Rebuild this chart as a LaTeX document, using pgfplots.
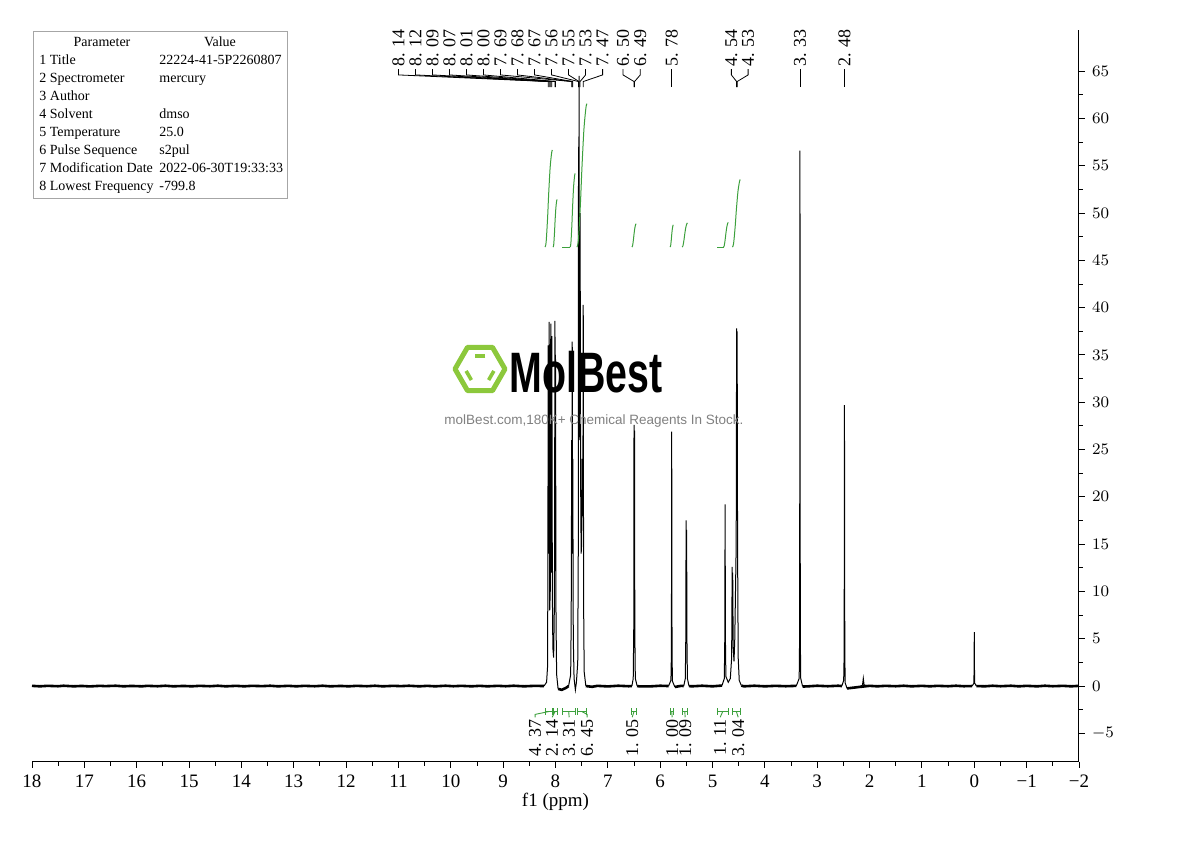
\documentclass[border=0pt]{standalone}
\usepackage{pgfplots}
\pgfplotsset{compat=1.18}
\usetikzlibrary{calc}
\usepackage{fontspec}
\setmainfont{Liberation Serif}
\newfontfamily\wmfont{Liberation Sans}
\definecolor{intgreen}{RGB}{60,160,60}
\definecolor{logogreen}{RGB}{140,200,60}
\begin{document}
\begin{tikzpicture}[x=1pt,y=1pt]
\useasboundingbox (0,0) rectangle (595,420.5);
% parameter table
\draw[gray!70, line width=0.4pt] (16.5,405) rectangle (143.5,321.5);
\begin{scope}[every node/.style={font=\fontsize{7}{8}\selectfont, text height=5pt, text depth=1.6pt, inner sep=1pt}]
\node at (51,399) {Parameter};
\node at (110,399) {Value};
\node[anchor=west] at (18.5,390) {1 Title};
\node[anchor=west] at (18.5,381) {2 Spectrometer};
\node[anchor=west] at (18.5,372) {3 Author};
\node[anchor=west] at (18.5,363) {4 Solvent};
\node[anchor=west] at (18.5,354) {5 Temperature};
\node[anchor=west] at (18.5,345) {6 Pulse Sequence};
\node[anchor=west] at (18.5,336) {7 Modification Date};
\node[anchor=west] at (18.5,327) {8 Lowest Frequency};
\node[anchor=west] at (78.5,390) {22224-41-5P2260807};
\node[anchor=west] at (78.5,381) {mercury};
\node[anchor=west] at (78.5,363) {dmso};
\node[anchor=west] at (78.5,354) {25.0};
\node[anchor=west] at (78.5,345) {s2pul};
\node[anchor=west] at (78.5,336) {2022-06-30T19:33:33};
\node[anchor=west] at (78.5,327) {-799.8};
\end{scope}
% watermark logo
\begin{scope}[shift={(240,236)}]
\draw[logogreen, line width=2.5pt, line join=round] (0:12.5) -- (60:12.5) -- (120:12.5) -- (180:12.5) -- (240:12.5) -- (300:12.5) -- cycle;
\draw[logogreen, line width=1.8pt] ($(60:7.5)!0.15!(120:7.5)$) -- ($(60:7.5)!0.85!(120:7.5)$);
\draw[logogreen, line width=1.8pt] ($(180:7.5)!0.15!(240:7.5)$) -- ($(180:7.5)!0.85!(240:7.5)$);
\draw[logogreen, line width=1.8pt] ($(300:7.5)!0.15!(360:7.5)$) -- ($(300:7.5)!0.85!(360:7.5)$);
\end{scope}
\begin{axis}[
  at={(16pt,39.5pt)}, anchor=south west, scale only axis,
  width=523.5pt, height=366pt,
  xmin=-2, xmax=18, x dir=reverse,
  ymin=-8.03, ymax=69.35,
  axis x line=bottom, axis y line=right,
  axis line style={-, line width=0.5pt},
  tick align=outside, major tick length=3pt, minor tick length=1.8pt,
  every tick/.style={black, line width=0.45pt},
  xtick={-2,-1,0,1,2,3,4,5,6,7,8,9,10,11,12,13,14,15,16,17,18},
  xticklabels={−2,−1,0,1,2,3,4,5,6,7,8,9,10,11,12,13,14,15,16,17,18},
  minor x tick num=1,
  ytick={-5,0,5,10,15,20,25,30,35,40,45,50,55,60,65},
  minor y tick num=1,
  x tick label style={font=\fontsize{9.5}{10}\selectfont},
  y tick label style={font=\fontsize{8.5}{9}\selectfont},
  xlabel={f1 (ppm)},
  xlabel style={font=\fontsize{9.5}{10}\selectfont, yshift=4pt},
  clip=false,
]
% baseline noise
\addplot[black, line width=1.3pt] coordinates {
(18.0,0.02)(17.85,-0.03)(17.7,0.02)(17.5,-0.02)(17.4,0.03)(17.2,-0.03)(17.05,0.01)(16.9,-0.04)(16.7,0.02)(16.6,-0.01)
(16.4,0.03)(16.25,-0.03)(16.1,0.01)(15.9,-0.03)(15.8,0.02)(15.6,-0.02)(15.45,0.03)(15.3,-0.03)(15.1,0.01)(14.95,-0.03)
(14.8,0.02)(14.6,-0.02)(14.45,0.03)(14.3,-0.03)(14.1,0.02)(13.95,-0.03)(13.8,0.02)(13.6,-0.01)(13.45,0.03)(13.3,-0.03)
(13.1,0.02)(12.95,-0.03)(12.8,0.02)(12.6,-0.02)(12.45,0.03)(12.3,-0.03)(12.1,0.01)(11.95,-0.03)(11.8,0.02)(11.6,-0.02)
(11.45,0.03)(11.3,-0.03)(11.1,0.02)(10.95,-0.01)(10.8,0.03)(10.6,-0.03)(10.45,0.02)(10.3,-0.03)(10.1,0.03)(9.95,-0.02)
(9.8,0.02)(9.6,-0.03)(9.45,0.02)(9.3,-0.03)(9.1,0.02)(8.95,-0.02)(8.8,0.03)(8.6,-0.03)(8.4,0.02)(8.22,0.0)
};
\addplot[black, line width=1.3pt] coordinates {
(7.95,-0.3)(7.88,-0.4)(7.8,-0.2)(7.75,0.0)
};
\addplot[black, line width=1.3pt] coordinates {
(7.42,0.0)(7.3,-0.08)(7.2,0.02)(7.0,-0.04)(6.8,0.03)(6.6,-0.02)(6.54,0.0)
};
\addplot[black, line width=1.3pt] coordinates {
(6.44,0.0)(6.4,-0.03)(6.2,-0.04)(6.0,0.03)(5.84,0.0)
};
\addplot[black, line width=1.3pt] coordinates {
(5.72,-0.1)(5.6,0.02)(5.55,0.0)
};
\addplot[black, line width=1.3pt] coordinates {
(5.45,0.0)(5.4,-0.03)(5.2,0.03)(5.0,-0.03)(4.82,0.05)
};
\addplot[black, line width=1.3pt] coordinates {
(4.45,0.05)(4.4,-0.03)(4.2,0.03)(4.0,-0.03)(3.8,0.02)(3.6,-0.02)(3.4,0.02)
};
\addplot[black, line width=1.3pt] coordinates {
(3.28,-0.05)(3.2,-0.04)(3.0,0.03)(2.8,-0.02)(2.6,0.03)(2.53,0.0)
};
\addplot[black, line width=1.3pt] coordinates {
(2.43,-0.25)(2.35,-0.2)(2.2,-0.1)(2.0,0.02)(1.85,-0.03)(1.7,0.02)(1.5,-0.02)(1.35,0.03)(1.2,-0.03)(1.0,0.02)
(0.85,-0.03)(0.7,0.02)(0.5,-0.02)(0.35,0.03)(0.2,-0.02)(0.04,0.0)
};
\addplot[black, line width=1.3pt] coordinates {
(-0.04,0.0)(-0.2,-0.03)(-0.35,0.03)(-0.5,-0.02)(-0.7,0.03)(-0.85,-0.03)(-1.0,0.02)(-1.2,-0.03)(-1.35,0.03)(-1.5,-0.02)
(-1.7,0.02)(-1.85,-0.03)(-2.0,0.02)
};
% peaks
\addplot[black, line width=0.5pt] coordinates {
(8.22,0.0)(8.17,0.4)(8.152,2)(8.145,12)(8.14,36)(8.135,14)(8.13,16)(8.12,38.5)(8.11,8)(8.1,10)(8.09,38.3)(8.08,12)
(8.07,37)(8.06,10)(8.05,4)(8.035,3)(8.02,9)(8.01,38.6)(8.005,25)(8.0,35)(7.99,7)(7.978,1.2)(7.95,-0.3)
};
\addplot[black, line width=0.5pt] coordinates {
(7.75,0.0)(7.71,1.2)(7.70,7)(7.69,26)(7.685,14)(7.68,36.4)(7.675,14)(7.67,24)(7.66,5)(7.645,0.8)(7.62,-0.4)
(7.6,0.4)(7.575,2.5)(7.565,14)(7.56,57)(7.555,30)(7.55,64.5)(7.545,28)(7.535,26)(7.53,50)(7.52,22)(7.51,14)(7.50,15)
(7.49,24)(7.48,18)(7.475,25)(7.47,40.3)(7.463,9)(7.452,1.5)(7.42,0.0)
};
\addplot[black, line width=0.5pt] coordinates {
(6.54,0.0)(6.515,0.8)(6.505,6)(6.50,27.6)(6.495,20)(6.49,27.0)(6.485,6)(6.475,0.8)(6.44,0.0)
};
\addplot[black, line width=0.5pt] coordinates {
(5.84,0.0)(5.795,0.6)(5.787,3)(5.783,12)(5.78,26.9)(5.777,12)(5.773,3)(5.765,0.5)(5.72,-0.1)
};
\addplot[black, line width=0.5pt] coordinates {
(5.55,0.0)(5.52,0.8)(5.511,5)(5.505,17.5)(5.5,10)(5.495,16.5)(5.489,5)(5.48,0.8)(5.45,0.0)
};
\addplot[black, line width=0.5pt] coordinates {
(4.82,0.05)(4.775,0.8)(4.766,5)(4.76,19.2)(4.754,5)(4.745,1)(4.70,0.4)(4.66,0.8)(4.635,3)(4.625,12.6)(4.62,7.7)(4.615,12.0)
(4.605,4)(4.59,2.6)(4.575,5)(4.548,15)(4.54,37.8)(4.535,30)(4.53,37.5)(4.522,15)(4.51,3)(4.49,0.6)(4.45,0.05)
};
\addplot[black, line width=0.5pt] coordinates {
(3.4,0.02)(3.345,0.8)(3.337,5)(3.333,25)(3.33,56.6)(3.327,25)(3.323,5)(3.315,0.8)(3.28,-0.05)
};
\addplot[black, line width=0.5pt] coordinates {
(2.53,0.0)(2.495,0.6)(2.487,3)(2.483,13)(2.48,29.7)(2.477,13)(2.473,3)(2.465,0.3)(2.43,-0.25)
};
\addplot[black, line width=0.5pt] coordinates {
(2.2,-0.1)(2.135,0.1)(2.12,0.8)(2.105,0.1)(2.0,0.02)
};
\addplot[black, line width=0.5pt] coordinates {
(0.04,0.0)(0.008,0.3)(0.003,2)(0.0,5.7)(-0.003,2)(-0.008,0.3)(-0.04,0.0)
};
% integral curves
\addplot[intgreen, line width=0.5pt, smooth] coordinates {(8.20,46.4)(8.179,46.91)(8.151,49.48)(8.13,52.05)(8.102,54.82)(8.074,56.36)(8.06,56.67)};
\addplot[intgreen, line width=0.5pt, smooth] coordinates {(8.045,46.4)(8.034,46.65)(8.019,47.91)(8.008,49.17)(7.993,50.52)(7.978,51.28)(7.97,51.43)};
\addplot[intgreen, line width=0.5pt] coordinates {(7.87,46.4)(7.72,46.4)};
\addplot[intgreen, line width=0.5pt, smooth] coordinates {(7.72,46.4)(7.706,46.79)(7.687,48.73)(7.673,50.68)(7.654,52.78)(7.635,53.95)(7.625,54.18)};
\addplot[intgreen, line width=0.5pt, smooth] coordinates {(7.59,46.4)(7.562,47.16)(7.524,50.95)(7.495,54.74)(7.457,58.83)(7.419,61.1)(7.40,61.56)};
\addplot[intgreen, line width=0.5pt, smooth] coordinates {(6.54,46.4)(6.528,46.52)(6.512,47.14)(6.50,47.76)(6.484,48.43)(6.468,48.8)(6.46,48.87)};
\addplot[intgreen, line width=0.5pt, smooth] coordinates {(5.81,46.4)(5.801,46.52)(5.789,47.11)(5.78,47.69)(5.768,48.33)(5.756,48.68)(5.75,48.75)};
\addplot[intgreen, line width=0.5pt, smooth] coordinates {(5.58,46.4)(5.565,46.53)(5.545,47.17)(5.53,47.81)(5.51,48.5)(5.49,48.88)(5.48,48.96)};
\addplot[intgreen, line width=0.5pt] coordinates {(4.91,46.4)(4.79,46.4)};
\addplot[intgreen, line width=0.5pt, smooth] coordinates {(4.79,46.4)(4.777,46.53)(4.759,47.18)(4.745,47.84)(4.727,48.54)(4.709,48.93)(4.70,49.01)};
\addplot[intgreen, line width=0.5pt, smooth] coordinates {(4.62,46.4)(4.598,46.76)(4.568,48.54)(4.545,50.33)(4.515,52.25)(4.485,53.33)(4.47,53.54)};
% peak labels (top)
\begin{scope}[every node/.style={rotate=90, anchor=west, inner sep=0.5pt, font=\fontsize{9}{9}\selectfont}]
\node at (axis cs:11.0,65.3) {8. 14};
\node at (axis cs:10.675,65.3) {8. 12};
\node at (axis cs:10.35,65.3) {8. 09};
\node at (axis cs:10.025,65.3) {8. 07};
\node at (axis cs:9.70,65.3) {8. 01};
\node at (axis cs:9.375,65.3) {8. 00};
\node at (axis cs:9.05,65.3) {7. 69};
\node at (axis cs:8.725,65.3) {7. 68};
\node at (axis cs:8.40,65.3) {7. 67};
\node at (axis cs:8.075,65.3) {7. 56};
\node at (axis cs:7.75,65.3) {7. 55};
\node at (axis cs:7.425,65.3) {7. 53};
\node at (axis cs:7.10,65.3) {7. 47};
\node at (axis cs:6.71,65.3) {6. 50};
\node at (axis cs:6.38,65.3) {6. 49};
\node at (axis cs:5.78,65.3) {5. 78};
\node at (axis cs:4.64,65.3) {4. 54};
\node at (axis cs:4.32,65.3) {4. 53};
\node at (axis cs:3.33,65.3) {3. 33};
\node at (axis cs:2.48,65.3) {2. 48};
\end{scope}
\begin{scope}[line width=0.4pt]
\draw (axis cs:11.0,65.2) -- (axis cs:11.0,64.6) -- (axis cs:8.14,63.9) -- (axis cs:8.14,63.3);
\draw (axis cs:10.675,65.2) -- (axis cs:10.675,64.6) -- (axis cs:8.12,63.9) -- (axis cs:8.12,63.3);
\draw (axis cs:10.35,65.2) -- (axis cs:10.35,64.6) -- (axis cs:8.09,63.9) -- (axis cs:8.09,63.3);
\draw (axis cs:10.025,65.2) -- (axis cs:10.025,64.6) -- (axis cs:8.07,63.9) -- (axis cs:8.07,63.3);
\draw (axis cs:9.70,65.2) -- (axis cs:9.70,64.6) -- (axis cs:8.01,63.9) -- (axis cs:8.01,63.3);
\draw (axis cs:9.375,65.2) -- (axis cs:9.375,64.6) -- (axis cs:8.00,63.9) -- (axis cs:8.00,63.3);
\draw (axis cs:9.05,65.2) -- (axis cs:9.05,64.6) -- (axis cs:7.69,63.9) -- (axis cs:7.69,63.3);
\draw (axis cs:8.725,65.2) -- (axis cs:8.725,64.6) -- (axis cs:7.68,63.9) -- (axis cs:7.68,63.3);
\draw (axis cs:8.40,65.2) -- (axis cs:8.40,64.6) -- (axis cs:7.67,63.9) -- (axis cs:7.67,63.3);
\draw (axis cs:8.075,65.2) -- (axis cs:8.075,64.6) -- (axis cs:7.56,63.9) -- (axis cs:7.56,63.3);
\draw (axis cs:7.75,65.2) -- (axis cs:7.75,64.6) -- (axis cs:7.55,63.9) -- (axis cs:7.55,63.3);
\draw (axis cs:7.425,65.2) -- (axis cs:7.425,64.6) -- (axis cs:7.53,63.9) -- (axis cs:7.53,63.3);
\draw (axis cs:7.10,65.2) -- (axis cs:7.10,64.6) -- (axis cs:7.47,63.9) -- (axis cs:7.47,63.3);
\draw (axis cs:6.71,65.2) -- (axis cs:6.71,64.6) -- (axis cs:6.50,63.9) -- (axis cs:6.50,63.3);
\draw (axis cs:6.38,65.2) -- (axis cs:6.38,64.6) -- (axis cs:6.49,63.9) -- (axis cs:6.49,63.3);
\draw (axis cs:5.78,65.2) -- (axis cs:5.78,63.3);
\draw (axis cs:4.64,65.2) -- (axis cs:4.64,64.6) -- (axis cs:4.54,63.9) -- (axis cs:4.54,63.3);
\draw (axis cs:4.32,65.2) -- (axis cs:4.32,64.6) -- (axis cs:4.53,63.9) -- (axis cs:4.53,63.3);
\draw (axis cs:3.33,65.2) -- (axis cs:3.33,63.3);
\draw (axis cs:2.48,65.2) -- (axis cs:2.48,63.3);
\end{scope}
% integral range markers (bottom)
\begin{scope}[intgreen, line width=0.45pt]
\draw (axis cs:8.20,-2.35) -- (axis cs:8.20,-3.05); \draw (axis cs:8.20,-2.7) -- (axis cs:8.06,-2.7); \draw (axis cs:8.06,-2.35) -- (axis cs:8.06,-3.05);
\draw (axis cs:8.045,-2.35) -- (axis cs:8.045,-3.05); \draw (axis cs:8.045,-2.7) -- (axis cs:7.97,-2.7); \draw (axis cs:7.97,-2.35) -- (axis cs:7.97,-3.05);
\draw (axis cs:7.87,-2.35) -- (axis cs:7.87,-3.05); \draw (axis cs:7.87,-2.7) -- (axis cs:7.625,-2.7); \draw (axis cs:7.625,-2.35) -- (axis cs:7.625,-3.05);
\draw (axis cs:7.59,-2.35) -- (axis cs:7.59,-3.05); \draw (axis cs:7.59,-2.7) -- (axis cs:7.40,-2.7); \draw (axis cs:7.40,-2.35) -- (axis cs:7.40,-3.05);
\draw (axis cs:6.54,-2.35) -- (axis cs:6.54,-3.05); \draw (axis cs:6.54,-2.7) -- (axis cs:6.46,-2.7); \draw (axis cs:6.46,-2.35) -- (axis cs:6.46,-3.05);
\draw (axis cs:5.81,-2.35) -- (axis cs:5.81,-3.05); \draw (axis cs:5.81,-2.7) -- (axis cs:5.75,-2.7); \draw (axis cs:5.75,-2.35) -- (axis cs:5.75,-3.05);
\draw (axis cs:5.58,-2.35) -- (axis cs:5.58,-3.05); \draw (axis cs:5.58,-2.7) -- (axis cs:5.48,-2.7); \draw (axis cs:5.48,-2.35) -- (axis cs:5.48,-3.05);
\draw (axis cs:4.91,-2.35) -- (axis cs:4.91,-3.05); \draw (axis cs:4.91,-2.7) -- (axis cs:4.70,-2.7); \draw (axis cs:4.70,-2.35) -- (axis cs:4.70,-3.05);
\draw (axis cs:4.62,-2.35) -- (axis cs:4.62,-3.05); \draw (axis cs:4.62,-2.7) -- (axis cs:4.47,-2.7); \draw (axis cs:4.47,-2.35) -- (axis cs:4.47,-3.05);
\draw (axis cs:8.13,-2.7) -- (axis cs:8.389,-3.0) -- (axis cs:8.389,-3.3);
\draw (axis cs:8.0075,-2.7) -- (axis cs:8.064,-3.3);
\draw (axis cs:7.7475,-2.7) -- (axis cs:7.739,-3.3);
\draw (axis cs:7.495,-2.7) -- (axis cs:7.395,-3.0) -- (axis cs:7.395,-3.3);
\draw (axis cs:6.50,-2.7) -- (axis cs:6.535,-3.3);
\draw (axis cs:5.78,-2.7) -- (axis cs:5.771,-3.3);
\draw (axis cs:5.53,-2.7) -- (axis cs:5.523,-3.3);
\draw (axis cs:4.805,-2.7) -- (axis cs:4.854,-3.3);
\draw (axis cs:4.545,-2.7) -- (axis cs:4.51,-3.3);
\end{scope}
\begin{scope}[every node/.style={rotate=90, anchor=east, inner sep=0.5pt, font=\fontsize{9}{9}\selectfont}]
\node at (axis cs:8.389,-3.35) {4. 37};
\node at (axis cs:8.064,-3.35) {2. 14};
\node at (axis cs:7.739,-3.35) {3. 31};
\node at (axis cs:7.395,-3.35) {6. 45};
\node at (axis cs:6.535,-3.35) {1. 05};
\node at (axis cs:5.771,-3.35) {1. 00};
\node at (axis cs:5.523,-3.35) {1. 09};
\node at (axis cs:4.854,-3.35) {1. 11};
\node at (axis cs:4.51,-3.35) {3. 04};
\end{scope}
\end{axis}
% watermark text
\node[font=\wmfont\bfseries\fontsize{28.5}{28.5}\selectfont, xscale=0.69, inner sep=0pt] at (293,234.5) {MolBest};
\node[font=\wmfont\fontsize{6.75}{7}\selectfont, text=gray, inner sep=0pt] at (297,210) {molBest.com,180K+ Chemical Reagents In Stock.};
\end{tikzpicture}
\end{document}
